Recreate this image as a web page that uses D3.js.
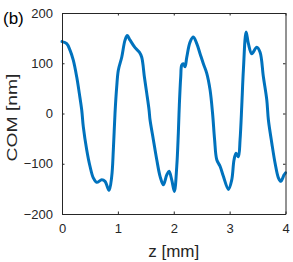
<!DOCTYPE html>
<html>
<head>
<meta charset="utf-8">
<script src="https://cdn.jsdelivr.net/npm/d3@7"></script>
<style>
  html, body { margin: 0; padding: 0; background: #fff; }
  svg { display: block; }
</style>
</head>
<body>
<svg id="chart" width="293" height="262"></svg>
<script>
// data
const zValues = [0, 0.084, 0.143, 0.202, 0.263, 0.310, 0.353, 0.381, 0.442, 0.501, 0.560, 0.621, 0.711, 0.770, 0.842, 0.890, 0.919, 0.949, 0.979, 1.008, 1.069, 1.128, 1.169, 1.218, 1.307, 1.384, 1.427, 1.474, 1.517, 1.558, 1.576, 1.635, 1.696, 1.755, 1.814, 1.875, 1.916, 1.964, 2.011, 2.054, 2.082, 2.100, 2.125, 2.143, 2.172, 2.202, 2.233, 2.292, 2.351, 2.412, 2.471, 2.530, 2.591, 2.650, 2.695, 2.731, 2.770, 2.829, 2.888, 2.978, 3.038, 3.079, 3.116, 3.157, 3.187, 3.218, 3.246, 3.295, 3.336, 3.397, 3.486, 3.545, 3.604, 3.665, 3.694, 3.755, 3.814, 3.873, 3.916, 3.975, 4.0];
const comValues = [143, 139, 126, 106, 73, 40, 7, -26, -72, -105, -128, -137, -132, -135, -153, -125, -72, 1, 53, 86, 112, 146, 155, 146, 131, 122, 112, 73, 40, 7, -13, -52, -92, -125, -142, -122, -115, -132, -155, -105, -39, 17, 73, 96, 99, 93, 112, 142, 152, 139, 119, 99, 80, 47, 0, -52, -92, -105, -125, -151, -132, -92, -79, -86, -52, 17, 86, 162, 139, 119, 132, 122, 73, 27, -13, -59, -99, -128, -135, -122, -118];
const xTicks = [0, 1, 2, 3, 4];
const yTicks = [-200, -100, 0, 100, 200];

const svg = d3.select('#chart');
const font = 'Arial, "Liberation Sans", Helvetica, sans-serif';
const axisColor = '#262626';

const plotL = 62, plotR = 285.5, plotT = 13, plotB = 214;

const x = d3.scaleLinear().domain([0, 4]).range([plotL, plotR]);
const y = d3.scaleLinear().domain([-200, 200]).range([plotB, plotT]);

// curve
const pts = zValues.map((z, i) => [z, comValues[i]]);
const line = d3.line()
    .x(d => x(d[0]))
    .y(d => y(d[1]))
    .curve(d3.curveCatmullRom.alpha(0.5));

svg.append('path')
    .datum(pts)
    .attr('d', line)
    .attr('fill', 'none')
    .attr('stroke', '#0072BD')
    .attr('stroke-width', 3)
    .attr('stroke-linejoin', 'round')
    .attr('stroke-linecap', 'round');

// box with inward ticks
const tickLen = 2.5;
const fmt = d3.format('d');
const bottomAxis = svg.append('g')
    .attr('transform', `translate(0,${plotB})`)
    .call(d3.axisBottom(x).tickValues(xTicks).tickFormat(fmt).tickSizeInner(-tickLen).tickSizeOuter(0).tickPadding(10));
const topAxis = svg.append('g')
    .attr('transform', `translate(0,${plotT})`)
    .call(d3.axisTop(x).tickValues(xTicks).tickSizeInner(-tickLen).tickSizeOuter(0).tickFormat(''));
const leftAxis = svg.append('g')
    .attr('transform', `translate(${plotL},0)`)
    .call(d3.axisLeft(y).tickValues(yTicks).tickFormat(fmt).tickSizeInner(-tickLen).tickSizeOuter(0).tickPadding(9));
const rightAxis = svg.append('g')
    .attr('transform', `translate(${plotR},0)`)
    .call(d3.axisRight(y).tickValues(yTicks).tickSizeInner(-tickLen).tickSizeOuter(0).tickFormat(''));

[bottomAxis, topAxis, leftAxis, rightAxis].forEach(a => {
    a.select('.domain').attr('stroke', axisColor).attr('stroke-width', 1);
    a.selectAll('.tick line').attr('stroke', axisColor).attr('stroke-width', 1);
    a.selectAll('.tick text')
        .attr('fill', axisColor)
        .style('font-family', font)
        .style('font-size', '13px');
});

// axis labels
svg.append('text')
    .attr('x', (plotL + plotR) / 2)
    .attr('y', 257)
    .attr('text-anchor', 'middle')
    .attr('fill', axisColor)
    .style('font-family', font)
    .style('font-size', '17px')
    .text('z [mm]');

svg.append('text')
    .attr('transform', `translate(17,117.5) rotate(-90)`)
    .attr('text-anchor', 'middle')
    .attr('fill', axisColor)
    .attr('textLength', 88)
    .attr('lengthAdjust', 'spacingAndGlyphs')
    .style('font-family', font)
    .style('font-size', '15px')
    .text('COM [nm]');

svg.append('text')
    .attr('x', 3)
    .attr('y', 24)
    .attr('fill', '#000')
    .style('font-family', font)
    .style('font-size', '17px')
    .text('(b)');
</script>
</body>
</html>
